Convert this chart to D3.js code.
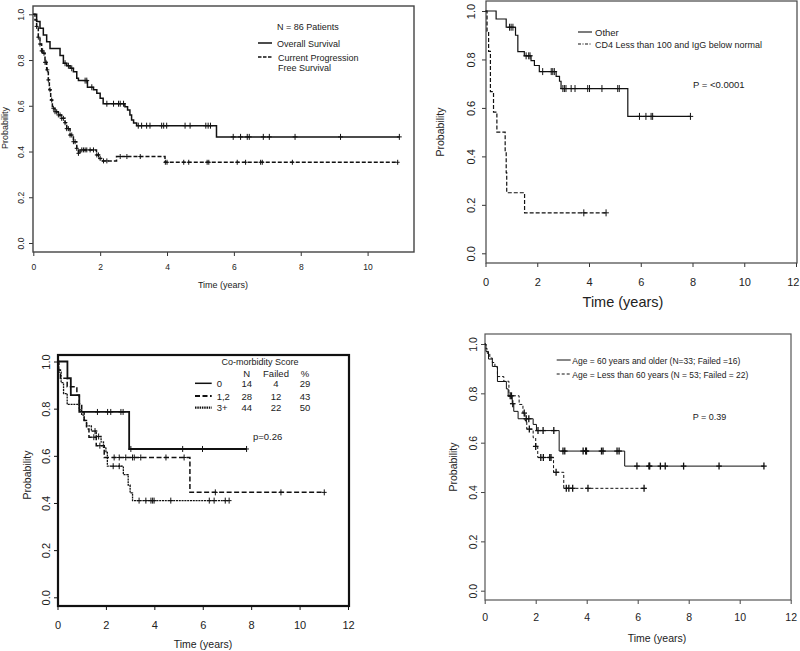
<!DOCTYPE html>
<html><head><meta charset="utf-8">
<script src="https://cdn.jsdelivr.net/npm/d3@7"></script>
<style>
body{margin:0;background:#fff}
svg{display:block}
text{font-family:"Liberation Sans",Arial,Helvetica,sans-serif;fill:#222}
</style>
</head><body>
<svg id="c" width="800" height="651"></svg>
<script>
// ---------------- DATA ----------------
// Panel 1: N = 86 patients
const osTime = [0,0.1,0.2,0.3,0.4,0.5,0.8,0.9,1.0,1.1,1.2,1.3,1.35,1.62,1.8,1.9,2.0,2.09,2.74,2.82,2.89,2.94,3.0,3.09,5.48];
const osSurv = [1,0.968,0.939,0.91,0.88,0.851,0.82,0.786,0.775,0.764,0.749,0.72,0.71,0.681,0.67,0.655,0.633,0.609,0.596,0.582,0.56,0.538,0.525,0.513,0.464];
const osCens = [0.95,1.05,1.15,1.55,1.6,1.75,2.2,2.4,2.55,2.6,2.7,3.14,3.24,3.39,3.49,3.84,3.9,3.99,4.54,4.69,5.16,5.23,5.3,5.98,6.2,6.4,6.46,6.88,7.06,7.83,9.19,10.95];
const pfsTime = [0,0.05,0.1,0.15,0.2,0.25,0.3,0.35,0.4,0.45,0.48,0.52,0.57,0.65,0.75,0.85,0.95,1.0,1.1,1.2,1.3,1.35,1.4,1.89,1.97,2.04,2.49,3.94];
const pfsSurv = [1,0.975,0.947,0.9,0.87,0.84,0.83,0.79,0.757,0.713,0.67,0.625,0.589,0.574,0.56,0.545,0.526,0.5,0.472,0.443,0.414,0.392,0.407,0.385,0.37,0.359,0.378,0.353];
const pfsCens = [0.1,0.15,0.2,0.25,0.28,0.32,0.35,0.38,0.42,0.45,0.5,0.55,0.6,0.65,0.7,0.75,0.8,0.85,0.9,0.95,1.0,1.05,1.1,1.15,1.2,1.25,1.3,1.35,1.45,1.5,1.55,1.6,1.7,1.8,1.9,1.95,2.0,2.1,2.2,2.6,2.8,3.2,3.95,4.0,4.5,4.65,5.2,5.25,6.1,6.35,6.8,6.85,7.75,10.9];

// Panel 2: CD4 / IgG
const otherTime = [0,0.41,0.8,1.16,1.25,1.5,1.76,1.89,2.08,2.73,2.86,2.92,5.5];
const otherSurv = [1,0.967,0.933,0.9,0.832,0.815,0.795,0.775,0.75,0.73,0.71,0.68,0.565];
const otherCens = [0.93,0.99,1.06,1.57,1.67,1.72,2.21,2.54,2.6,2.66,2.99,3.05,3.11,3.31,3.46,3.95,4.02,4.5,5.11,5.17,5.95,6.2,6.4,6.46,7.92];
const cd4Time = [0,0.06,0.12,0.19,0.31,0.44,0.76,0.8,0.82,1.51];
const cd4Surv = [1,0.917,0.833,0.667,0.583,0.5,0.417,0.333,0.25,0.167];
const cd4Cens = [3.8,4.66];

// Panel 3: Co-morbidity score
const cm0Time = [0,0.41,0.55,0.9,2.96];
const cm0Surv = [1,0.929,0.857,0.786,0.629];
const cm0Cens = [1.65,2.07,2.2,2.62,2.71,3.03,5.17,5.99,7.81];
const cm12Time = [0,0.05,0.12,0.4,0.8,0.9,1.0,1.1,1.2,1.3,1.6,1.93,5.47];
const cm12Surv = [1,0.964,0.929,0.893,0.857,0.821,0.786,0.75,0.714,0.679,0.643,0.593,0.445];
const cm12Cens = [1.5,1.75,2.34,2.55,2.82,3.1,3.17,3.44,4.48,5.23,6.52,9.23,11.02];
const cm3Time = [0,0.05,0.15,0.25,0.4,0.9,1.0,1.1,1.2,1.4,1.6,1.8,1.9,2.0,2.06,2.72,2.92,3.0,3.1];
const cm3Surv = [1,0.955,0.91,0.864,0.818,0.795,0.773,0.75,0.727,0.705,0.682,0.659,0.636,0.614,0.556,0.52,0.476,0.443,0.41];
const cm3Cens = [1.55,1.7,2.3,2.55,3.37,3.65,3.86,3.93,3.99,4.68,6.27,6.47,6.93,7.09];
const cmLegendLabels = ["0","1,2","3+"];
const cmLegendN = [14,28,44];
const cmLegendFailed = [4,12,22];
const cmLegendPct = [29,43,50];

// Panel 4: Age
const oldTime = [0,0.05,0.15,0.3,0.5,0.85,0.92,1.08,1.14,1.31,1.9,2.03,2.92,5.49];
const oldSurv = [1,0.97,0.939,0.909,0.848,0.818,0.788,0.758,0.727,0.697,0.674,0.649,0.566,0.505];
const oldCens = [1.1,1.63,1.73,2.09,2.29,2.71,3.07,3.14,3.86,3.96,3.99,4.58,4.64,5.19,5.27,5.97,6.44,6.47,6.89,7.08,7.8,9.19,10.95];
const youngTime = [0,0.05,0.1,0.2,0.3,0.4,0.5,0.75,0.95,1.35,1.5,1.58,1.65,1.9,2.0,2.08,2.7,3.1];
const youngSurv = [1,0.981,0.962,0.943,0.925,0.906,0.868,0.849,0.79,0.755,0.72,0.69,0.655,0.62,0.585,0.54,0.48,0.415];
const youngCens = [1.0,1.05,1.55,1.75,2.0,2.2,2.3,2.55,2.6,2.8,3.2,3.3,3.45,4.05,6.25];

const ticks0to10 = [0,2,4,6,8,10];
const ticks0to12 = [0,2,4,6,8,10,12];
const probTicks = [0,0.2,0.4,0.6,0.8,1.0];

// ---------------- DRAWING ----------------
const svg = d3.select("#c");

function stepValue(times, surv, t){
  const i = d3.bisectRight(times, t) - 1;
  return surv[Math.max(0,i)];
}

function panel(cfg){
  const g = svg.append("g");
  const x = d3.scaleLinear().domain(cfg.xd).range(cfg.xr);
  const y = d3.scaleLinear().domain([0,1]).range(cfg.yr);
  const [bl,bt,br,bb] = cfg.box;

  // x axis
  const gx = g.append("g").attr("transform",`translate(0,${bb})`)
    .call(d3.axisBottom(x).tickValues(cfg.xTicks).tickSize(cfg.tickLen).tickSizeOuter(0).tickFormat(d3.format("d")));
  gx.select(".domain").remove();
  gx.selectAll("line").attr("stroke",cfg.axisColor).attr("stroke-width",1);
  gx.selectAll("text").attr("y",cfg.xLabBase-bb).attr("dy",null)
    .attr("font-size",cfg.tickFont).style("font-family",'"Liberation Sans",Arial,sans-serif').attr("fill","#222");
  if (cfg.clampLast) {
    // keep the last label inside the picture's right edge
    gx.selectAll(".tick text").filter(d=>d===cfg.xTicks[cfg.xTicks.length-1])
      .attr("text-anchor","end").attr("x", 799 - x(cfg.xTicks[cfg.xTicks.length-1]));
  }

  // y axis
  const gy = g.append("g").attr("transform",`translate(${bl},0)`)
    .call(d3.axisLeft(y).tickValues(probTicks).tickSize(cfg.tickLen).tickSizeOuter(0).tickFormat(d3.format(".1f")));
  gy.select(".domain").remove();
  gy.selectAll("line").attr("stroke",cfg.axisColor).attr("stroke-width",1);
  gy.selectAll("text").attr("transform","rotate(-90)").attr("x",0)
    .attr("y",-(bl-cfg.yLabX)).attr("dy","0.36em").attr("text-anchor","middle")
    .attr("font-size",cfg.tickFont).style("font-family",'"Liberation Sans",Arial,sans-serif').attr("fill","#222");

  // box
  g.append("rect").attr("x",bl).attr("y",bt).attr("width",br-bl).attr("height",bb-bt)
    .attr("fill","none").attr("stroke",cfg.boxColor).attr("stroke-width",cfg.boxW);

  // titles
  g.append("text").attr("x",cfg.xTitle[0]).attr("y",cfg.xTitle[1]).attr("text-anchor","middle")
    .attr("font-size",cfg.xTitleFont).text("Time (years)");
  g.append("text").attr("transform",`translate(${cfg.yTitle[0]},${cfg.yTitle[1]}) rotate(-90)`)
    .attr("text-anchor","middle").attr("dy","0.36em").attr("font-size",cfg.yTitleFont).text("Probability");

  // curves
  const line = d3.line().x(d=>x(d[0])).y(d=>y(d[1])).curve(d3.curveStepAfter);
  cfg.curves.forEach(c=>{
    const pts = c.time.map((t,i)=>[t,c.surv[i]]);
    const tEnd = Math.max(c.time[c.time.length-1], d3.max(c.cens)||0);
    pts.push([tEnd, c.surv[c.surv.length-1]]);
    g.append("path").attr("d",line(pts)).attr("fill","none").attr("stroke",c.color||"#111")
      .attr("stroke-width",c.w).attr("stroke-dasharray",c.dash||null);
    const cg = g.append("g").attr("stroke",c.color||"#111").attr("stroke-width",c.mw||1);
    c.cens.forEach(t=>{
      const cx = x(t), cy = y(stepValue(c.time,c.surv,t));
      cg.append("line").attr("x1",cx).attr("x2",cx).attr("y1",cy-c.ms).attr("y2",cy+c.ms);
      cg.append("line").attr("x1",cx-c.ms*0.8).attr("x2",cx+c.ms*0.8).attr("y1",cy).attr("y2",cy);
    });
  });
  return {g,x,y};
}

// Panel 1
const p1 = panel({
  box:[33,6,414,252], xd:[0,10], xr:[33.3,367.6], yr:[243,14.3],
  xTicks:ticks0to10, tickLen:4, tickFont:8.5, xLabBase:270, yLabX:20.5,
  axisColor:"#333", boxColor:"#444", boxW:1.4,
  xTitle:[223,288], xTitleFont:9, yTitle:[5,128], yTitleFont:9,
  curves:[
    {time:osTime, surv:osSurv, cens:osCens, w:1.5, ms:3},
    {time:pfsTime, surv:pfsSurv, cens:pfsCens, w:1.5, dash:"4,2", ms:2.5}
  ]
});
p1.g.append("text").attr("x",277).attr("y",29.5).attr("font-size",9).text("N = 86 Patients");
p1.g.append("line").attr("x1",258).attr("x2",272).attr("y1",43).attr("y2",43).attr("stroke","#111").attr("stroke-width",1.5);
p1.g.append("text").attr("x",277).attr("y",46.5).attr("font-size",9).text("Overall Survival");
p1.g.append("line").attr("x1",258).attr("x2",272).attr("y1",57).attr("y2",57).attr("stroke","#111").attr("stroke-width",1.6).attr("stroke-dasharray","3.5,1.5");
p1.g.append("text").attr("x",278).attr("y",60.5).attr("font-size",9).text("Current Progression");
p1.g.append("text").attr("x",278).attr("y",70.5).attr("font-size",9).text("Free Survival");

// Panel 2
const p2 = panel({
  box:[486,1,797,263], xd:[0,12], xr:[485.5,796], yr:[253.3,11],
  xTicks:ticks0to12, tickLen:4, tickFont:11, xLabBase:285.5, yLabX:471, clampLast:true,
  axisColor:"#333", boxColor:"#444", boxW:1.2,
  xTitle:[623,307], xTitleFont:14.5, yTitle:[440,132], yTitleFont:10.5,
  curves:[
    {time:otherTime, surv:otherSurv, cens:otherCens, w:1.2, ms:3.5},
    {time:cd4Time, surv:cd4Surv, cens:cd4Cens, w:1.2, dash:"4,2", ms:3.5}
  ]
});
p2.g.append("line").attr("x1",578).attr("x2",592).attr("y1",32).attr("y2",32).attr("stroke","#111").attr("stroke-width",1.1);
p2.g.append("text").attr("x",595).attr("y",35.5).attr("font-size",9.5).text("Other");
p2.g.append("line").attr("x1",578).attr("x2",592).attr("y1",44).attr("y2",44).attr("stroke","#111").attr("stroke-width",1.1).attr("stroke-dasharray","3,1.5,1,1.5");
p2.g.append("text").attr("x",595).attr("y",47.5).attr("font-size",9.5).attr("textLength",167).attr("lengthAdjust","spacingAndGlyphs").text("CD4 Less than 100 and IgG below normal");
p2.g.append("text").attr("x",693).attr("y",87.5).attr("font-size",9.5).text("P = <0.0001");

// Panel 3
const p3 = panel({
  box:[58,355,349,606], xd:[0,12], xr:[57.5,348], yr:[597.3,361.5],
  xTicks:ticks0to12, tickLen:4, tickFont:11, xLabBase:629, yLabX:46,
  axisColor:"#111", boxColor:"#111", boxW:2.2,
  xTitle:[203,648], xTitleFont:10.5, yTitle:[27,475], yTitleFont:10.5,
  curves:[
    {time:cm0Time, surv:cm0Surv, cens:cm0Cens, w:1.8, ms:3},
    {time:cm12Time, surv:cm12Surv, cens:cm12Cens, w:1.5, dash:"5,2.5", ms:3},
    {time:cm3Time, surv:cm3Surv, cens:cm3Cens, w:1.3, dash:"2,0.8", ms:3}
  ]
});
p3.g.append("text").attr("x",260).attr("y",364.5).attr("text-anchor","middle").attr("font-size",9).text("Co-morbidity Score");
const cmHead = [["N",246.7],["Failed",276],["%",305]];
cmHead.forEach(h=>p3.g.append("text").attr("x",h[1]).attr("y",376.5).attr("text-anchor","middle").attr("font-size",9.5).text(h[0]));
const cmRowY = [383.3,396,407.7];
const cmDash = [null,"5,2.5","1.5,0.8"];
const cmW = [1.5,2.2,2.2];
cmLegendLabels.forEach((lab,i)=>{
  p3.g.append("line").attr("x1",195).attr("x2",211.7).attr("y1",cmRowY[i]).attr("y2",cmRowY[i])
    .attr("stroke","#111").attr("stroke-width",cmW[i]).attr("stroke-dasharray",cmDash[i]);
  p3.g.append("text").attr("x",216.7).attr("y",cmRowY[i]+3.5).attr("font-size",9.5).text(lab);
  p3.g.append("text").attr("x",246.7).attr("y",cmRowY[i]+3.5).attr("text-anchor","middle").attr("font-size",9.5).text(cmLegendN[i]);
  p3.g.append("text").attr("x",276).attr("y",cmRowY[i]+3.5).attr("text-anchor","middle").attr("font-size",9.5).text(cmLegendFailed[i]);
  p3.g.append("text").attr("x",305).attr("y",cmRowY[i]+3.5).attr("text-anchor","middle").attr("font-size",9.5).text(cmLegendPct[i]);
});
p3.g.append("text").attr("x",253).attr("y",440).attr("font-size",9.5).text("p=0.26");

// Panel 4
const p4 = panel({
  box:[485,334,791,600], xd:[0,12], xr:[484.7,790.7], yr:[590.7,344],
  xTicks:ticks0to12, tickLen:4, tickFont:10.5, xLabBase:620.5, yLabX:473,
  axisColor:"#444", boxColor:"#555", boxW:1.2,
  xTitle:[657,642], xTitleFont:10.5, yTitle:[453.5,467], yTitleFont:10.5,
  curves:[
    {time:oldTime, surv:oldSurv, cens:oldCens, w:1, ms:3.5, mw:1.3},
    {time:youngTime, surv:youngSurv, cens:youngCens, w:1, dash:"3,2", ms:3.5, mw:1.3}
  ]
});
p4.g.append("line").attr("x1",556.7).attr("x2",570.7).attr("y1",360).attr("y2",360).attr("stroke","#111").attr("stroke-width",1);
p4.g.append("text").attr("x",572.3).attr("y",363.5).attr("font-size",9).attr("textLength",168).attr("lengthAdjust","spacingAndGlyphs").text("Age = 60 years and older (N=33; Failed =16)");
p4.g.append("line").attr("x1",556.7).attr("x2",570.7).attr("y1",374).attr("y2",374).attr("stroke","#111").attr("stroke-width",1).attr("stroke-dasharray","3,2");
p4.g.append("text").attr("x",572.3).attr("y",377.5).attr("font-size",9).attr("textLength",176).attr("lengthAdjust","spacingAndGlyphs").text("Age = Less than 60 years (N = 53; Failed = 22)");
p4.g.append("text").attr("x",692.7).attr("y",419.5).attr("font-size",9).text("P = 0.39");
</script>
</body></html>
